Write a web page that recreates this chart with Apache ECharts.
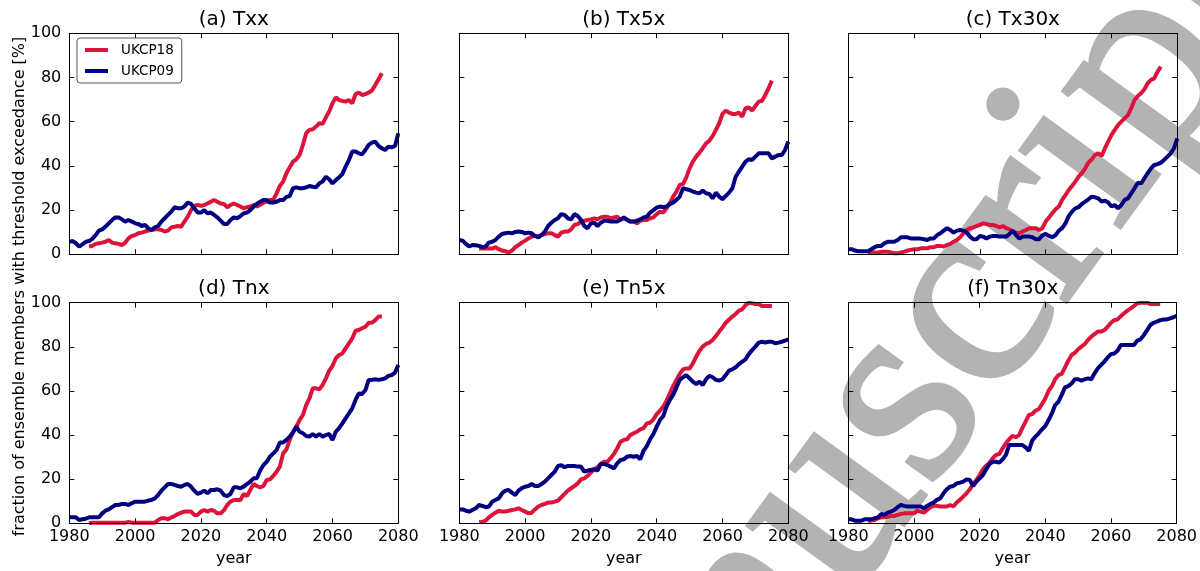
<!DOCTYPE html>
<html><head><meta charset="utf-8">
<script src="https://cdn.jsdelivr.net/npm/echarts@6/dist/echarts.min.js"></script>
<style>html,body{margin:0;padding:0;background:#fff}#c{width:1200px;height:571px}</style>
</head><body><div id="c"></div>
<script>
// ---- data ----
const panelTitles = ['(a) Txx', '(b) Tx5x', '(c) Tx30x', '(d) Tnx', '(e) Tn5x', '(f) Tn30x'];
const seriesNames = ['UKCP18', 'UKCP09'];
const ukcp09FirstYear = 1980, ukcp09LastYear = 2080;
const ukcp18FirstYear = 1986, ukcp18LastYear = 2075;
const yearTicks = [1980, 2000, 2020, 2040, 2060, 2080];
const pctTicks = [0, 20, 40, 60, 80, 100];

const txx09 = [5.7,6,5,3.5,4.5,5.7,6,7,8.7,10.7, 11.3,12.5,14,15.5,16.7,16.7,15.8,14.8,15.5,14.8,
  14,13.7,12.8,13.3,11.8,11,12.2,12.8,14.8,16.3, 17.8,19.3,21.3,20.8,20.8,21.6,23.4,22.8,20.8,18.9,
  18.9,20,18.5,18.9,17.8,16.7,15.2,13.7,13.7,15.5, 16.7,16.3,17.3,18.5,18.9,20,21.6,22.8,23.8,24.6,
  24.6,23.4,23.4,23.8,24.6,24.6,26,26.4,29.9,30.3, 29.9,29.9,30.3,30.9,30.6,30.3,32.1,32.9,35.1,33.9,
  32.1,33.6,34.8,36.3,39.7,42.7,46.5,46.5,45.7,45.2, 47.2,49.5,50.5,51,49,48,47.2,48.7,48.4,49, 54.8];
const txx18 = [3.5,3.8,4.7,5, 5.3,5.7,6.5,5.3,5,4.7,4.2,5.3,7.2,8.3,
  8.7,9.5,9.8,10.3,10.7,11,11.3,11.3,11,10.3, 10.7,12.2,12.5,12.8,12.5,14.8,17,20,21.9,22.3,
  21.9,22.3,23,23.8,24.6,23.8,23,22.8,21.3,22.3, 23,22.3,21.6,20.8,21.3,21.6,22.3,21.6,22.3,23.4,
  23.8,24.6,24.6,27.6,30.9,32.9,36.7,39.4,41.9,43, 44.9,49.5,54.8,56.3,56.6,57.8,59.3,59,62,64.6,
  68.3,71,69.8,69.4,69.1,69.8,68.3,72.5,73.2,72.1, 72.5,73.2,74.1,76.6,79.2,81.9];

const tx5x09 = [6.5,6.2,4.7,3.5,4.2,4.1,3.8,3.2,3.5,5.3, 5.7,6.5,8,9.2,9.5,9.8,9.5,10.1,10.3,10.1,
  9.5,9.8,9.5,8.3,7.7,8.7,10.3,12.8,14.3,15.5, 16.3,18.2,17.8,16.3,15.8,18.2,17.3,15.5,12.8,11.8,
  14,14.3,12.8,14.3,15.2,15.2,14.8,14.8,14.8,15.8, 16.7,15.5,14.8,14.8,15.2,15.8,16.7,17,18.9,20,
  21.1,21.6,21.3,21.6,22.8,23.4,24.6,26.1,29.9,29.4, 29.1,28.4,27.9,27.6,28.8,27.6,27.3,25.3,27.9,26.1,
  24.9,26.4,27.9,29.9,35.1,37.4,39.7,41.9,43,42.7, 44.2,45.7,45.7,45.7,45.7,43.4,44.2,44.9,44.9,47.2, 51];
const tx5x18 = [2.6,2.6,2.6,2.6, 2.6,3.2,2.3,1.7,1.4,0.8,1.7,3.2,4.2,5.3,
  6.2,7.2,8,8.3,8.3,8.7,9.2,9.5,9.5,8.7, 8,9.8,10.3,10.3,11.3,13.3,13.7,14.8,15.2,15.5,
  15.8,16.3,15.8,16.7,17,17,16.3,16.7,17,15.5, 16.3,15.8,14.8,14.8,14,15.2,15.5,15.5,16.3,16.7,
  18.2,19.3,18.9,20.8,23.1,26.1,28.4,31.4,31.8,34.8, 38.9,41.9,44.2,46,48,50.2,51.4,53.5,56.3,59.3,
  63.5,65,64.1,63.5,63.5,64.1,62.3,66.1,66.5,65, 67.1,69.1,69.5,72.1,75.1,78.6];

const tx30x09 = [2.3,2.3,1.7,1.4,1.4,1.4,1.4,2.3,3.2,3.8, 3.8,5,5.7,5.7,5.7,6.5,7.7,7.7,7.7,7.2,
  7.1,7.1,7.1,6.8,6.5,7.2,7.2,8.7,9.5,10.7, 11.8,11,9.8,10.7,11,10.7,9.8,8,6.8,6.8,
  8.3,8,7.2,8,8.3,8.3,8,8,8,9.2, 10.7,8.7,7.1,8,8,8,7.7,6.8,6.8,8.6,
  9.2,8.3,7.7,8.7,10.7,11.8,14,17.3,19.3,20.8, 21.3,22.8,23.8,24.9,26.1,25.8,25.3,23.8,24.3,23.4,
  21.6,22.3,20.8,22.3,24.6,25.3,27.6,29.9,32.4,32.1, 34.4,36.7,38.9,40.4,40.8,41.5,42.7,44.2,45.7,48, 52.5];
const tx30x18 = [0.8,0.8,0.8,0.8, 1.1,1.2,1.2,0.8,0.5,0.5,0.8,1.2,1.7,2,
  2.3,2.3,2.7,2.7,2.7,3.2,3.2,3.8,3.8,3.5, 4.2,4.7,5.7,6.5,7.7,9.5,11,11.8,12.2,12.8,
  13.3,14,13.7,13.3,13.3,12.8,12.2,12.8,11.8,11.3, 10.3,9.8,9.5,10.3,11,11.8,11.8,11.8,11,11.8,
  14.8,16.7,18.6,20.4,21.6,24.6,26.8,29.1,30.9,32.9, 35.1,36.7,38.9,41.5,43,44.9,45.7,44.5,48,51,
  54,56.3,58.5,60,61.5,63,66.1,69.8,71.6,72.9, 74.7,77.4,78.9,79.6,82.7,84.9];

const tnx09 = [2.7,2.7,2.7,1.5,1.8,2.1,2.7,2.7,2.7,2.7, 4.5,5.7,6.3,7.3,8.3,8.3,8.8,8.8,8.3,9.1,
  9.8,9.8,9.8,9.8,10.3,10.6,11.3,12.8,14.8,16.3, 17.8,17.8,17.4,16.9,16.6,17.4,17.8,16.6,14.8,13.3,
  13.9,14.8,13.6,15.1,15.1,15.4,14.8,12.8,12.4,13.3, 16.3,16.3,15.9,16.6,17.8,18.9,20.4,20.4,23.9,26.4,
  27.9,30.2,31.7,33.2,36.6,36.6,37.8,39.3,41.1,43.8, 41.5,40.8,39.6,39.3,40.5,39.3,40.5,39.3,40,40.5,
  37.8,41.5,43.1,45.3,47.6,49.8,52.1,55.9,58.9,58.6, 60.4,65,65,65.3,65,65.3,65.7,66.8,67.2,68.3, 71.8];
const tnx18 = [0,0.3,0.3,0.3, 0.3,0.3,0.3,0.3,0.3,0.3,0.3,0.3,0.6,0.3,
  0.3,0.3,0.3,0.3,0.3,0.3,0.3,1.5,2.3,2.3, 1.8,2.7,3.3,4.2,4.8,5.3,5.3,5.3,3.8,3.8,
  5.3,6,5.3,6,5.7,4.5,4.5,6,8.3,9.8, 10.6,10.6,10.6,13.3,12.4,15.1,17.8,16.9,16.3,16.9,
  19.6,19.9,21.5,23.4,25.7,31.7,33.5,37.8,41.5,43.8, 46.8,49.1,53.6,56.6,61.2,61.2,60.7,62.7,65.7,69.2,
  71.3,74.8,76.3,77,79.3,81.6,83.8,87.3,87.6,88.4, 89.1,90.9,90.9,92.1,93.7,93.7];

const tn5x09 = [6.3,6.3,5.7,5.3,6,6.8,8.3,7.9,7.3,7.6, 9.8,10.6,11.3,13.6,14.8,15.1,13.9,12.8,14.8,15.9,
  16.6,16.9,17.8,16.9,16.9,17.8,18.9,20.4,21.9,23.4, 26,26.4,25.4,26,26,26,25.7,25.7,23.4,23.9,
  24.2,24.5,23.9,26.9,26.9,26.4,25.7,24.9,27.2,28.7, 29,30.2,30.5,30.2,30.5,29,32.9,35,38.1,40.5,
  43.8,46.8,48.6,52.9,55.9,58.2,61.6,65,66.2,67.2, 65.7,64.2,63.1,64.2,62.7,65.3,66.8,66.2,65,64.7,
  65.3,67.2,69.2,69.8,70.7,72.2,73.3,74.3,76.7,78.5, 80.1,81.9,82.3,81.9,82.3,82.3,81.6,81.9,82.3,82.8, 83.4];
const tn5x18 = [0.6,0.6,1.2,2.7, 3.8,4.8,5.7,5.3,5.3,5.7,6,6.3,6.8,6,
  5.3,4.5,4.8,6.3,7.6,8.3,8.8,9.4,9.4,9.8, 10.3,11.8,13.3,14.8,15.9,16.9,18.1,19.9,20.4,21.5,
  23,24.5,25.4,26.9,27.9,27.9,29.5,31.4,34,37, 37.8,38.1,40,40.8,41.5,42.6,43.1,45.3,45.6,47.1,
  49.5,51.1,52.9,55.6,58.9,62.2,65,67.7,69.8,70.2, 70.2,72.5,75.5,78.2,80.1,81.3,81.9,83.1,84.9,86.9,
  88.8,90.9,92.4,93.7,94.9,96.4,97,98.9,100,99.7, 99.4,99.4,98.5,98.5,98.5,98.5];

const tn30x09 = [1.8,1.8,1.2,1.2,1.2,1.8,1.8,1.8,2.3,2.7, 4.2,3.8,4.8,5.3,6,7.3,8.3,7.9,7.6,7.6,
  7.6,7.6,7.6,6.8,7.9,8.8,9.4,10.6,11.3,13.6, 15.4,16.6,16.9,18.1,18.4,18.9,19.9,19.6,16.9,18.9,
  20.4,21.9,24.5,26.9,27.9,27.9,27.5,29,31,35.5, 35.5,35.5,35.5,35.5,34.4,32.9,37.5,39.3,40.8,42.6,
  44.1,46.8,49.8,53.6,55.1,58.2,61.6,62.2,63.4,65.3, 65.3,64.7,65.3,65.7,65.3,68,70.2,71.8,73.3,75.2,
  76.7,77,78.2,80.8,80.8,80.8,80.8,80.8,82.8,83.4, 85.3,87.6,89.9,90.9,91.4,92.1,92.4,92.4,92.9,93.4, 94];
const tn30x18 = [0.8,1.2,1.5,2.3, 2.7,2.7,3,3.3,3.3,3.8,4.2,4.5,4.5,4.5,
  4.5,5.7,5.3,4.8,6,7.3,7.9,7.9,7.6,7.6, 7.6,8.3,7.6,9.4,10.6,12.1,13.6,15.4,17.8,19.6,
  21.9,24.5,26,27.5,29.5,31,31.4,34,36.3,38.1, 39.6,39,40,43.1,46.1,49.1,49.5,51.1,51.7,54.1,
  56.6,60.1,62.2,65.3,67.2,67.7,70.7,73.7,76.3,77.3, 78.9,80.1,81.3,83.1,84.6,85.8,86.9,86.9,87.6,89.1,
  90.9,92.1,92.4,93.9,95.2,96.4,97.4,98.5,99.7,100, 100,100,99.4,99.4,99.4,99.4];

const ukcp09Values = [txx09, tx5x09, tx30x09, tnx09, tn5x09, tn30x09];
const ukcp18Values = [txx18, tx5x18, tx30x18, tnx18, tn5x18, tn30x18];

const yAxisTitle = 'fraction of ensemble members with threshold exceedance [%]';
const xAxisTitle = 'year';
const watermarkText = 'Manuscript';

// ---- build chart ----
function yearsFrom(a, b) { const r = []; for (let y = a; y <= b; y++) r.push(y); return r; }
const years09 = yearsFrom(ukcp09FirstYear, ukcp09LastYear);
const years18 = yearsFrom(ukcp18FirstYear, ukcp18LastYear);
const pairs = (yrs, vals) => vals.map((v, i) => [yrs[i], v]);

const FONT = "'DejaVu Sans', sans-serif";
const RED = '#dc143c', NAVY = '#000080';
const lefts = [69.3, 459.3, 848.3], tops = [33.3, 302.7], W = 329, Hs = [221, 220.6];

const grid = [], xAxis = [], yAxis = [], series = [], graphic = [];
panelTitles.forEach((title, i) => {
  const row = Math.floor(i / 3), col = i % 3;
  grid.push({ left: lefts[col], top: tops[row], width: W, height: Hs[row], show: false });
  const tick = { show: true, inside: true, length: 5, lineStyle: { color: '#000', width: 1 } };
  const line = { show: true, onZero: false, lineStyle: { color: '#000', width: 1 } };
  xAxis.push({
    type: 'value', gridIndex: i, position: 'bottom', z: 5, min: yearTicks[0], max: yearTicks[yearTicks.length - 1],
    interval: yearTicks[1] - yearTicks[0], axisLine: line, axisTick: tick, splitLine: { show: false },
    axisLabel: { show: row === 1, color: '#000', fontFamily: FONT, fontSize: 16, margin: 6,
      formatter: v => String(v) },
    name: row === 1 ? xAxisTitle : '', nameLocation: 'middle', nameGap: 28,
    nameTextStyle: { color: '#000', fontFamily: FONT, fontSize: 16 }
  });
  xAxis.push({
    type: 'value', gridIndex: i, position: 'top', z: 5, min: yearTicks[0], max: yearTicks[yearTicks.length - 1],
    interval: yearTicks[1] - yearTicks[0], axisLine: line, axisTick: tick, splitLine: { show: false },
    axisLabel: { show: false }
  });
  yAxis.push({
    type: 'value', gridIndex: i, position: 'left', z: 5, min: pctTicks[0], max: pctTicks[pctTicks.length - 1],
    interval: pctTicks[1] - pctTicks[0], axisLine: line, axisTick: tick, splitLine: { show: false },
    axisLabel: { show: col === 0, color: '#000', fontFamily: FONT, fontSize: 16, margin: 8,
      formatter: v => String(v) }
  });
  yAxis.push({
    type: 'value', gridIndex: i, position: 'right', z: 5, min: pctTicks[0], max: pctTicks[pctTicks.length - 1],
    interval: pctTicks[1] - pctTicks[0], axisLine: line, axisTick: tick, splitLine: { show: false },
    axisLabel: { show: false }
  });
  series.push({
    name: seriesNames[0], type: 'line', xAxisIndex: 2 * i, yAxisIndex: 2 * i,
    data: pairs(years18, ukcp18Values[i]), showSymbol: false, symbol: 'none', clip: true,
    lineStyle: { color: RED, width: 4 }, itemStyle: { color: RED }, z: 2
  });
  series.push({
    name: seriesNames[1], type: 'line', xAxisIndex: 2 * i, yAxisIndex: 2 * i,
    data: pairs(years09, ukcp09Values[i]), showSymbol: false, symbol: 'none', clip: true,
    lineStyle: { color: NAVY, width: 4 }, itemStyle: { color: NAVY }, z: 3
  });
  graphic.push({
    type: 'text', x: lefts[col] + W / 2, y: row === 0 ? 20 : 289, silent: true, z: 6,
    style: { text: title, fill: '#000', fontFamily: FONT, fontSize: 20,
      align: 'center', verticalAlign: 'middle', textAlign: 'center', textVerticalAlign: 'middle' }
  });
});

graphic.push({
  type: 'text', x: 20, y: 286.5, rotation: Math.PI / 2, silent: true, z: 6,
  style: { text: yAxisTitle, fill: '#000', fontFamily: FONT, fontSize: 16,
    align: 'center', verticalAlign: 'middle', textAlign: 'center', textVerticalAlign: 'middle' }
});

// watermark (grey, behind the data lines)
graphic.push({
  type: 'text', x: 493, y: 968, rotation: 54 * Math.PI / 180, silent: true, z: 1,
  style: { text: watermarkText, fill: '#b3b3b3', stroke: '#b3b3b3', lineWidth: 4,
    fontFamily: "'Liberation Serif', serif", fontSize: 275,
    align: 'left', verticalAlign: 'middle', textAlign: 'left', textVerticalAlign: 'middle' }
});

const chart = echarts.init(document.getElementById('c'), null, { renderer: 'canvas' });
chart.setOption({
  animation: false,
  backgroundColor: '#fff',
  grid, xAxis, yAxis, series, graphic,
  legend: {
    data: seriesNames, left: 77, top: 38, orient: 'vertical', padding: [5, 8, 5, 8], itemGap: 7,
    itemWidth: 23, itemHeight: 4, icon: 'rect', backgroundColor: '#fff', z: 8,
    borderColor: '#555', borderWidth: 1, borderRadius: 3,
    textStyle: { fontFamily: FONT, fontSize: 13.5, color: '#000', padding: [0, 0, 0, 8], lineHeight: 14 }
  }
});
</script></body></html>
